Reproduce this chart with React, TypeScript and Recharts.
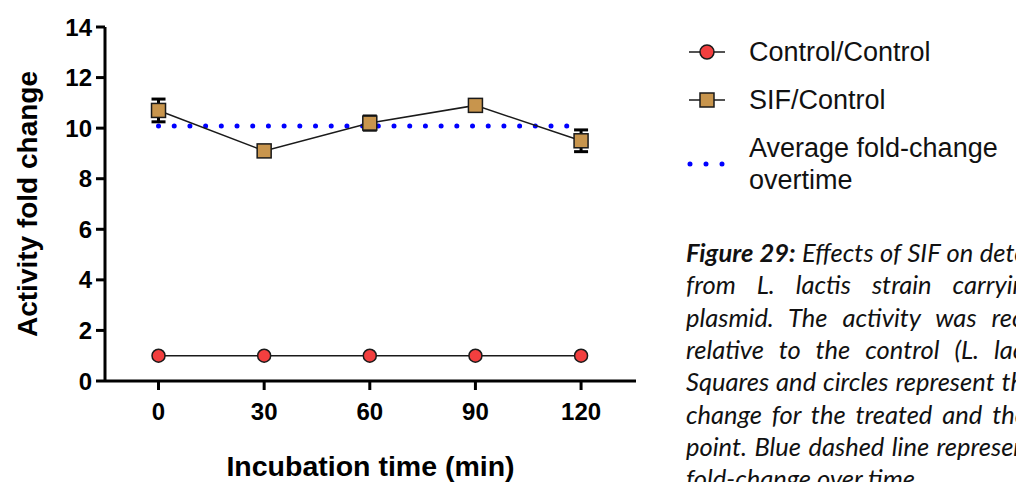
import React from "react";
import { LineChart, Line, XAxis, YAxis, ErrorBar, Label } from "recharts";

// incubation times (min) and fold-change values
const times = [0, 30, 60, 90, 120];
const controlValues = [1, 1, 1, 1, 1];
const sifValues = [10.7, 9.1, 10.2, 10.9, 9.5];
const sifErrors = [0.45, 0.05, 0.28, 0.05, 0.43];
const averageValues = [10.08, 10.08, 10.08, 10.08, 10.08];
const xTicks = [0, 30, 60, 90, 120];
const yTicks = [0, 2, 4, 6, 8, 10, 12, 14];

const legendItems = ["Control/Control", "SIF/Control", "Average fold-change", "overtime"];

const captionLines = [
  { bold: "Figure 29:", text: " Effects of SIF on detected", spacing: 0.5 },
  { bold: "", text: "from L. lactis strain carrying the", spacing: 15 },
  { bold: "", text: "plasmid. The activity was recorded", spacing: 9 },
  { bold: "", text: "relative to the control (L. lactis", spacing: 9 },
  { bold: "", text: "Squares and circles represent the", spacing: 1 },
  { bold: "", text: "change for the treated and the", spacing: 4 },
  { bold: "", text: "point. Blue dashed line represents", spacing: 1.5 },
  { bold: "", text: "fold-change over time.", spacing: 0 },
];

const data = times.map((t, i) => ({
  time: t,
  control: controlValues[i],
  sif: sifValues[i],
  sifErr: sifErrors[i],
  avg: averageValues[i],
}));

const SQUARE_FILL = "#C8954D";
const CIRCLE_FILL = "#F23F3F";
const EDGE = "#1a1a1a";
const AXIS_FONT = "'Liberation Sans', Arial, sans-serif";

const SquareDot = (props: any) => {
  const { cx, cy, index } = props;
  if (cx == null || cy == null) return <g key={index} />;
  return (
    <rect
      key={index}
      x={cx - 7}
      y={cy - 7}
      width={14}
      height={14}
      fill={SQUARE_FILL}
      stroke={EDGE}
      strokeWidth={1.5}
    />
  );
};

export default function App() {
  return (
    <div
      style={{
        position: "absolute",
        left: 0,
        top: 0,
        width: 1016,
        height: 482,
        overflow: "hidden",
        background: "#fff",
      }}
    >
      <LineChart
        width={680}
        height={482}
        data={data}
        margin={{ top: 27, right: 44, bottom: 41, left: 0 }}
      >
        <XAxis
          dataKey="time"
          type="number"
          domain={[-15.2, 135.6]}
          ticks={xTicks}
          allowDataOverflow
          height={60}
          axisLine={{ stroke: "#000", strokeWidth: 3 }}
          tickLine={{ stroke: "#000", strokeWidth: 3 }}
          tickSize={9}
          tickMargin={13}
          tick={{ fill: "#000", fontSize: 24, fontWeight: 700, fontFamily: AXIS_FONT }}
        >
          <Label
            content={({ viewBox }: any) => (
              <text
                x={viewBox.x + viewBox.width / 2}
                y={466}
                textAnchor="middle"
                dominantBaseline="central"
                fontSize={28.5}
                fontWeight={700}
                fontFamily={AXIS_FONT}
                fill="#000"
              >
                Incubation time (min)
              </text>
            )}
          />
        </XAxis>
        <YAxis
          type="number"
          domain={[0, 14]}
          ticks={yTicks}
          width={105}
          axisLine={{ stroke: "#000", strokeWidth: 3 }}
          tickLine={{ stroke: "#000", strokeWidth: 3 }}
          tickSize={9}
          tickMargin={4}
          tick={{ fill: "#000", fontSize: 24, fontWeight: 700, fontFamily: AXIS_FONT }}
        >
          <Label
            content={({ viewBox }: any) => {
              const cy = viewBox.y + viewBox.height / 2;
              return (
                <text
                  x={27}
                  y={cy}
                  transform={`rotate(-90 27 ${cy})`}
                  textAnchor="middle"
                  dominantBaseline="central"
                  fontSize={28}
                  fontWeight={700}
                  fontFamily={AXIS_FONT}
                  fill="#000"
                >
                  Activity fold change
                </text>
              );
            }}
          />
        </YAxis>
        <Line
          dataKey="avg"
          stroke="#0000ff"
          strokeWidth={5}
          strokeDasharray="0 15.7"
          strokeLinecap="round"
          dot={false}
          activeDot={false}
          isAnimationActive={false}
        />
        <Line
          dataKey="control"
          stroke={EDGE}
          strokeWidth={1.5}
          dot={{ r: 6.5, fill: CIRCLE_FILL, stroke: EDGE, strokeWidth: 1.5 }}
          activeDot={false}
          isAnimationActive={false}
        />
        <Line
          dataKey="sif"
          stroke={EDGE}
          strokeWidth={1.5}
          dot={SquareDot}
          activeDot={false}
          isAnimationActive={false}
        >
          <ErrorBar
            dataKey="sifErr"
            direction="y"
            width={7}
            stroke="#000"
            strokeWidth={3}
            isAnimationActive={false}
          />
        </Line>
      </LineChart>

      <svg
        width={1016}
        height={482}
        style={{ position: "absolute", left: 0, top: 0, pointerEvents: "none" }}
      >
        <line x1={689} x2={725} y1={52} y2={52} stroke={EDGE} strokeWidth={1.5} />
        <circle cx={707} cy={52} r={7} fill={CIRCLE_FILL} stroke={EDGE} strokeWidth={1.5} />
        <line x1={689} x2={725} y1={100} y2={100} stroke={EDGE} strokeWidth={1.5} />
        <rect x={700} y={93} width={14} height={14} fill={SQUARE_FILL} stroke={EDGE} strokeWidth={1.5} />
        <line
          x1={690}
          x2={723}
          y1={164}
          y2={164}
          stroke="#0000ff"
          strokeWidth={5}
          strokeDasharray="0 16"
          strokeLinecap="round"
        />
        {legendItems.map((item, i) => (
          <text
            key={item}
            x={749}
            y={[52, 100, 148, 180][i]}
            dominantBaseline="central"
            fontSize={27}
            fontFamily={AXIS_FONT}
            fill="#111"
          >
            {item}
          </text>
        ))}
      </svg>

      {captionLines.map((line, i) => (
        <div
          key={i}
          style={{
            position: "absolute",
            left: 686,
            top: 236 + i * 32.3,
            height: 32,
            lineHeight: "32px",
            whiteSpace: "nowrap",
            fontFamily: "Lato, 'Open Sans', sans-serif",
            fontStyle: "italic",
            fontSize: 25.5,
            color: "#111",
            wordSpacing: line.spacing,
          }}
        >
          {line.bold && <b>{line.bold}</b>}
          {line.text}
        </div>
      ))}
    </div>
  );
}
